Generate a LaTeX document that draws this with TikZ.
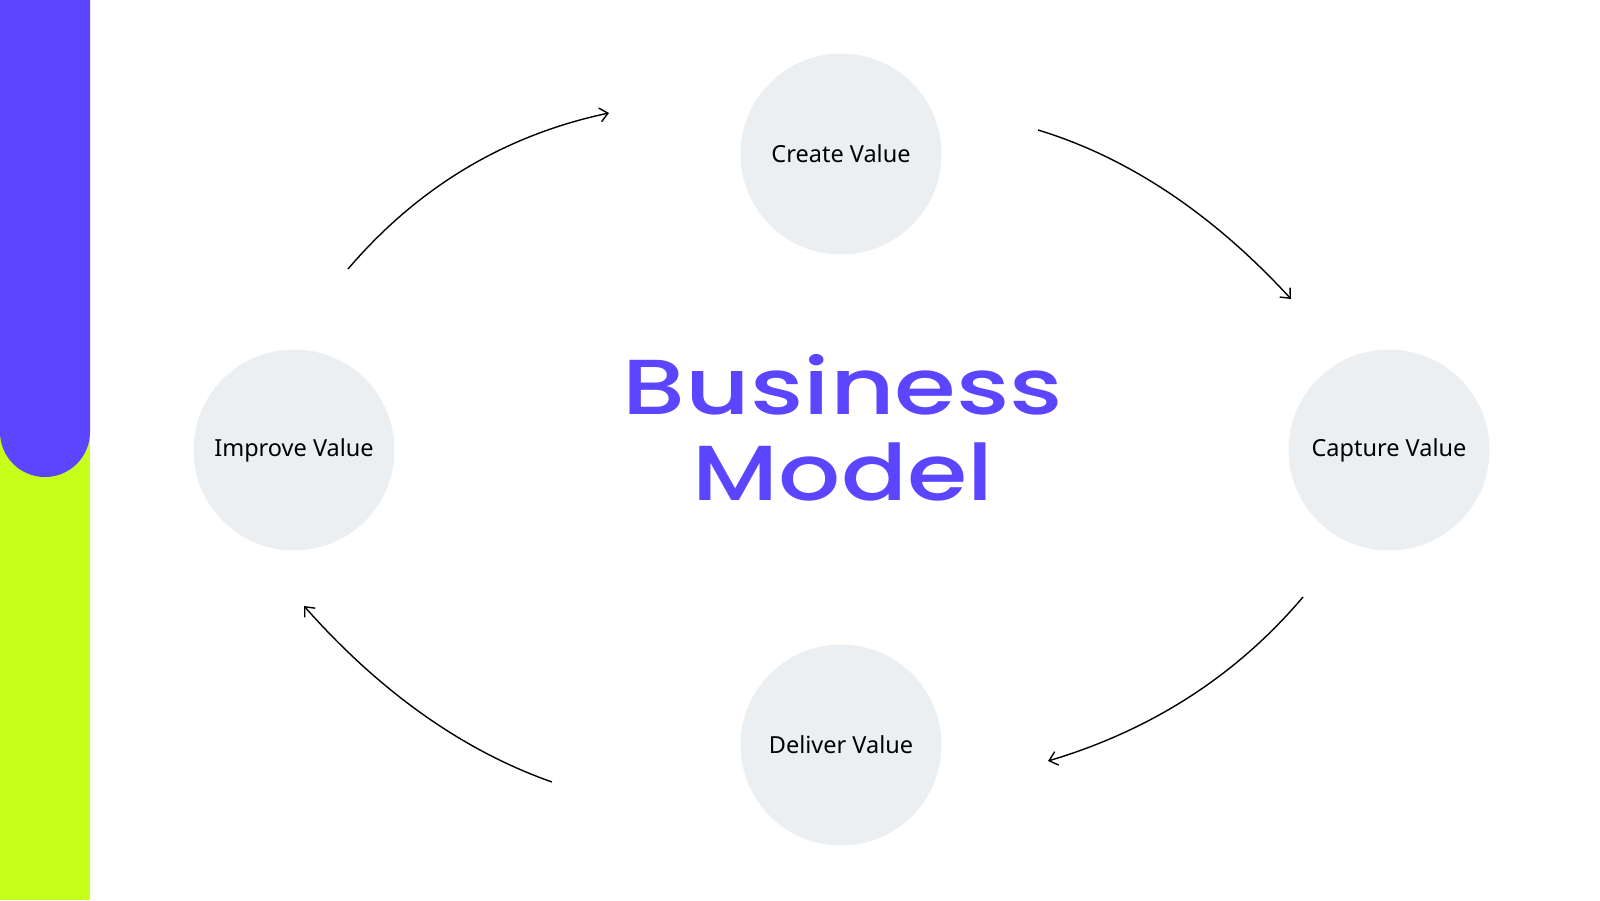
\documentclass[tikz,border=0pt]{standalone}
\usepackage{fontspec}
\usetikzlibrary{arrows.meta}
\setmainfont{Noto Sans}
\newfontfamily\titlefont{Poppins}[UprightFont=*-Medium]
\definecolor{bmpurple}{HTML}{5B45FF}
\definecolor{bmlime}{HTML}{C6FF1A}
\definecolor{bmcircle}{HTML}{ECEFF2}
\tikzset{
  valuecircle/.style={circle, fill=bmcircle, minimum size=201pt, inner sep=0pt, font=\fontsize{23.5}{28}\selectfont, text=black},
  titletext/.style={text=bmpurple, inner sep=0pt, font=\titlefont\fontsize{78}{90}\selectfont},
  flowarrow/.style={draw=black, line width=1.4pt, -{Straight Barb[length=8pt,width=14pt,line width=1.4pt]}}
}
\begin{document}
\begin{tikzpicture}[x=1pt,y=-1pt]
\useasboundingbox (0,0) rectangle (1600,900);
\fill[white] (0,0) rectangle (1600,900);
% side bars
\fill[bmlime] (0,0) rectangle (90,900);
\fill[bmpurple, rounded corners=45pt] (0,-50) rectangle (90,477);
% circles
\node[valuecircle] (create) at (841,154) {Create Value};
\node[valuecircle] (capture) at (1389,450) {Capture Value};
\node[valuecircle] (deliver) at (841,745) {Deliver Value};
\node[valuecircle] (improve) at (294,450) {Improve Value};
% title
\node[titletext, anchor=base] (title1) at (843,414) {\scalebox{1.28}[1]{Business}};
\node[titletext, anchor=base] (title2) at (843,500) {\scalebox{1.25}[1]{Model}};
% arrow ends
\coordinate (a1s) at (348,269); \coordinate (a1e) at (609,113);
\coordinate (a2s) at (1038,130); \coordinate (a2e) at (1291,299);
\coordinate (a3s) at (1303,597); \coordinate (a3e) at (1048,761);
\coordinate (a4s) at (552,782); \coordinate (a4e) at (304,606);
\draw[flowarrow] (a1s) .. controls (418,187) and (505,135) .. (a1e);
\draw[flowarrow] (a2s) .. controls (1127,157) and (1212,213) .. (a2e);
\draw[flowarrow] (a3s) .. controls (1237,675) and (1152,730) .. (a3e);
\draw[flowarrow] (a4s) .. controls (464,751) and (381,693) .. (a4e);
\end{tikzpicture}
\end{document}
